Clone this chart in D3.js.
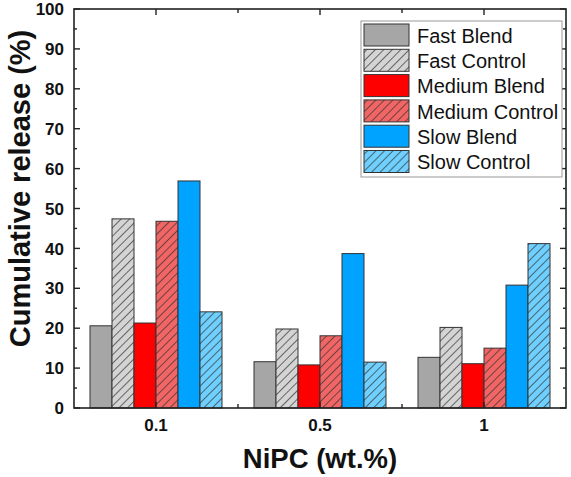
<!DOCTYPE html>
<html><head><meta charset="utf-8">
<script src="https://cdn.jsdelivr.net/npm/d3@7"></script>
<style>body{margin:0;background:#fff}svg{display:block}</style>
</head><body>
<svg id="c" width="571" height="477"></svg>
<script>
const categories = ["0.1", "0.5", "1"];
const seriesNames = ["Fast Blend", "Fast Control", "Medium Blend", "Medium Control", "Slow Blend", "Slow Control"];
const fastBlend = [20.6, 11.6, 12.7];
const fastControl = [47.4, 19.8, 20.2];
const mediumBlend = [21.3, 10.8, 11.1];
const mediumControl = [46.8, 18.1, 15.0];
const slowBlend = [56.9, 38.7, 30.8];
const slowControl = [24.1, 11.5, 41.2];
const fills = ["#a6a6a6", "#d4d4d4", "#ff0000", "#f26565", "#00a3ff", "#6fd0ff"];
const hatched = [false, true, false, true, false, true];
const yTicks = [0, 10, 20, 30, 40, 50, 60, 70, 80, 90, 100];

const values = [fastBlend, fastControl, mediumBlend, mediumControl, slowBlend, slowControl];
const svg = d3.select("#c");
const L = 74, R = 566, T = 9, B = 408;
const x = d3.scaleBand().domain(categories).range([L, R]).padding(0);
const inner = d3.scaleBand().domain(d3.range(6)).range([0, 132]);
const y = d3.scaleLinear().domain([0, 100]).range([B, T]);
const font = "'Liberation Sans', Arial, sans-serif";

const defs = svg.append("defs");
fills.forEach((c, i) => {
  if (!hatched[i]) return;
  const p = defs.append("pattern").attr("id", "h" + i).attr("patternUnits", "userSpaceOnUse")
    .attr("width", 6).attr("height", 6).attr("patternTransform", "rotate(45)");
  p.append("rect").attr("width", 6).attr("height", 6).attr("fill", c);
  p.append("line").attr("x1", 0).attr("y1", 0).attr("x2", 0).attr("y2", 6)
    .attr("stroke", "#333").attr("stroke-width", 1.4);
});
const fillOf = i => hatched[i] ? `url(#h${i})` : fills[i];

// bars
categories.forEach((cat, ci) => {
  const x0 = x(cat) + (x.bandwidth() - 132) / 2;
  values.forEach((arr, si) => {
    svg.append("rect")
      .attr("x", x0 + inner(si)).attr("y", y(arr[ci]))
      .attr("width", inner.bandwidth()).attr("height", B - y(arr[ci]))
      .attr("fill", fillOf(si)).attr("stroke", "#333").attr("stroke-width", 1);
  });
});

// frame
svg.append("rect").attr("x", L).attr("y", T).attr("width", R - L).attr("height", B - T)
  .attr("fill", "none").attr("stroke", "#222").attr("stroke-width", 1.6);

// y ticks (inward) left & right
const minor = d3.range(5, 100, 10);
const tk = svg.append("g").attr("stroke", "#222").attr("stroke-width", 1.4);
yTicks.forEach(v => {
  tk.append("line").attr("x1", L).attr("x2", L + 6).attr("y1", y(v)).attr("y2", y(v));
  tk.append("line").attr("x1", R).attr("x2", R - 6).attr("y1", y(v)).attr("y2", y(v));
});
minor.forEach(v => {
  tk.append("line").attr("x1", L).attr("x2", L + 3).attr("y1", y(v)).attr("y2", y(v));
  tk.append("line").attr("x1", R).attr("x2", R - 3).attr("y1", y(v)).attr("y2", y(v));
});
// x ticks: major at centres, minor at boundaries (inward), bottom & top
categories.forEach(c => {
  const cx = x(c) + x.bandwidth() / 2;
  tk.append("line").attr("x1", cx).attr("x2", cx).attr("y1", B).attr("y2", B - 6);
  tk.append("line").attr("x1", cx).attr("x2", cx).attr("y1", T).attr("y2", T + 6);
});
categories.slice(1).forEach(c => {
  const bx = x(c);
  tk.append("line").attr("x1", bx).attr("x2", bx).attr("y1", B).attr("y2", B - 4);
  tk.append("line").attr("x1", bx).attr("x2", bx).attr("y1", T).attr("y2", T + 4);
});

// y tick labels
svg.append("g").selectAll("text").data(yTicks).join("text")
  .attr("x", L - 10).attr("y", d => y(d)).attr("dy", "0.36em")
  .attr("text-anchor", "end").attr("font-family", font).attr("font-weight", "bold")
  .attr("font-size", 17).attr("fill", "#111").text(d => d);
// x tick labels
svg.append("g").selectAll("text").data(categories).join("text")
  .attr("x", d => x(d) + x.bandwidth() / 2).attr("y", 431)
  .attr("text-anchor", "middle").attr("font-family", font).attr("font-weight", "bold")
  .attr("font-size", 17).attr("fill", "#111").text(d => d);

// axis titles
svg.append("text").attr("transform", `translate(30,${(T + B) / 2 - 20}) rotate(-90)`)
  .attr("text-anchor", "middle").attr("font-family", font).attr("font-weight", "bold")
  .attr("font-size", 29).attr("fill", "#111").text("Cumulative release (%)");
svg.append("text").attr("x", 320).attr("y", 468)
  .attr("text-anchor", "middle").attr("font-family", font).attr("font-weight", "bold")
  .attr("font-size", 27.5).attr("fill", "#111").text("NiPC (wt.%)");

// legend
const lg = svg.append("g");
lg.append("rect").attr("x", 361).attr("y", 21).attr("width", 201).attr("height", 156)
  .attr("fill", "#fff").attr("stroke", "#999").attr("stroke-width", 1);
seriesNames.forEach((n, i) => {
  const yy = 24 + i * 25.3;
  lg.append("rect").attr("x", 364).attr("y", yy).attr("width", 45).attr("height", 22)
    .attr("fill", fillOf(i)).attr("stroke", "#333").attr("stroke-width", 1);
  lg.append("text").attr("x", 417).attr("y", yy + 11.5).attr("dy", "0.36em")
    .attr("font-family", font).attr("font-size", 20).attr("fill", "#111").text(n);
});
</script>
</body></html>
